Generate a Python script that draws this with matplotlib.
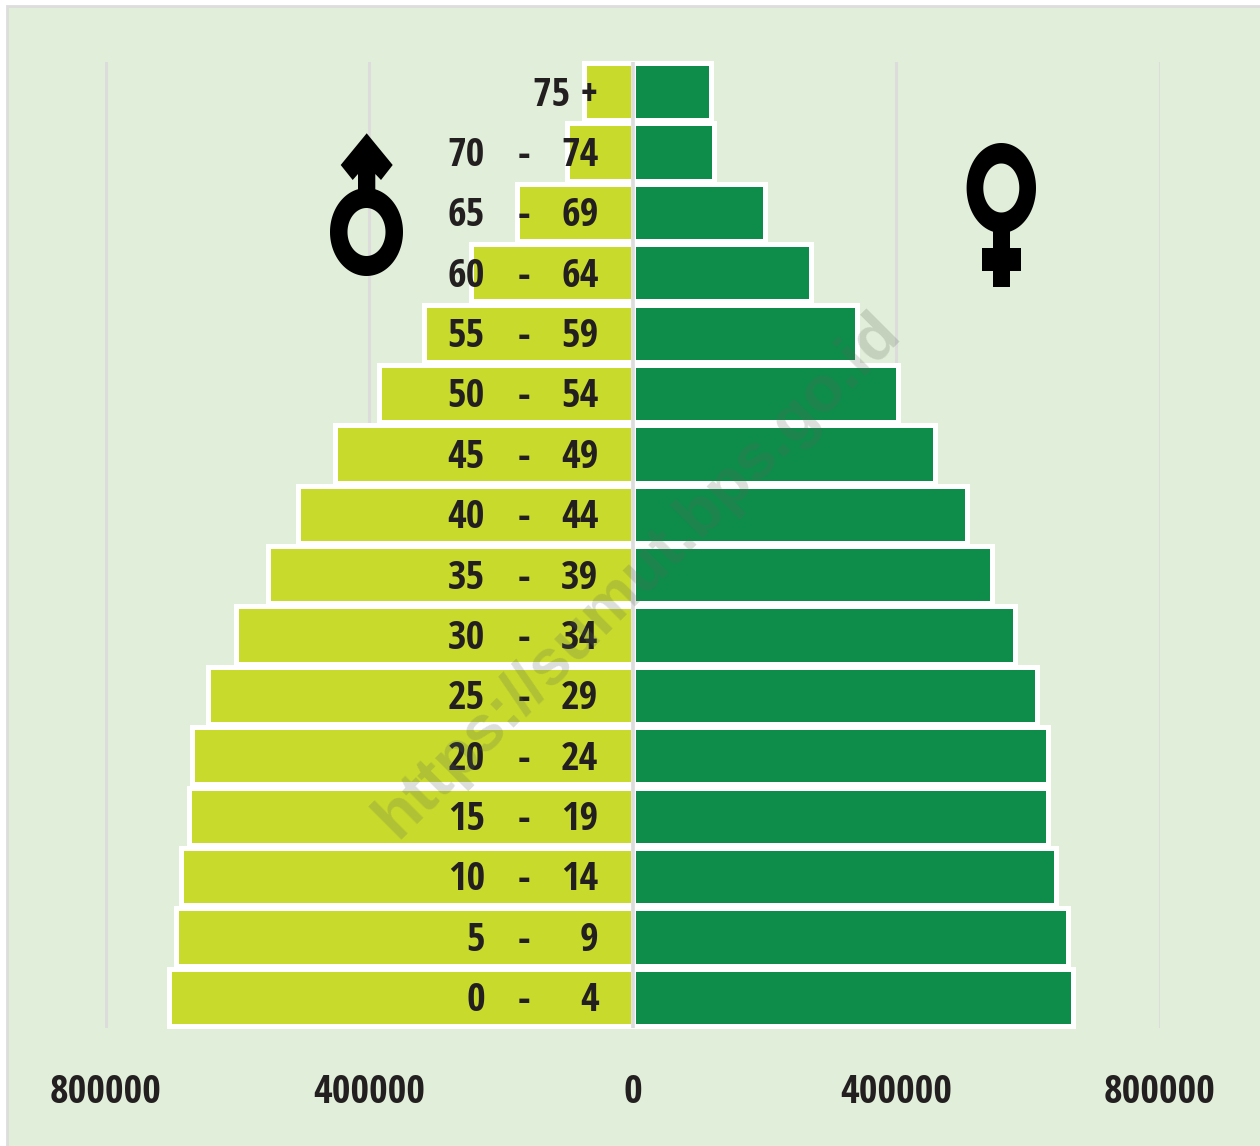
import numpy as np
import matplotlib
matplotlib.use("Agg")
import matplotlib.pyplot as plt
from matplotlib.patches import Rectangle, Polygon, PathPatch
from matplotlib.path import Path

age_low = ["0", "5", "10", "15", "20", "25", "30", "35", "40", "45", "50", "55", "60", "65", "70", "75 +"]
age_high = ["4", "9", "14", "19", "24", "29", "34", "39", "44", "49", "54", "59", "64", "69", "74", ""]
male = [703600, 693000, 685400, 673200, 668700, 644400, 601900, 553300, 507800, 451600,
        384800, 316500, 245200, 175300, 99400, 73600]
female = [669000, 661500, 643500, 631000, 631000, 614500, 581000, 545000, 508000, 459500,
          403500, 341000, 271500, 201500, 124000, 119500]
ticks = [-800000, -400000, 0, 400000, 800000]
tick_labels = ["800000", "400000", "0", "400000", "800000"]
watermark = "https://sumut.bps.go.id"

FONT = "Open Sans Condensed"
BG, MALE, FEMALE, INK, GRID = "#e1eed9", "#c8da2b", "#0e8c4a", "#231f20", "#dcdcdc"
W, H = 1260, 1146

fig = plt.figure(figsize=(W / 100, H / 100), dpi=100, facecolor="white")

under = fig.add_axes([0, 0, 1, 1], zorder=0)
under.set_xlim(0, W); under.set_ylim(H, 0); under.axis("off")
under.add_patch(Rectangle((7, 6), W, H, facecolor=BG, edgecolor="#dddddd", lw=2))

ax = fig.add_axes([105.5 / W, 1 - 1027.5 / H, 1054 / W, 966 / H], zorder=1)
ax.patch.set_alpha(0)
ax.set_xlim(-800000, 800000)
ax.set_ylim(-0.5, 15.5)
for s in ax.spines.values():
    s.set_visible(False)
y = np.arange(len(male))
ax.set_axisbelow(True)
ax.grid(axis="x", color=GRID, lw=2.2)
ax.grid(axis="y", visible=False)
ax.barh(y, -np.array(male), height=0.95, color=MALE, edgecolor="white", lw=3.6, clip_on=False, zorder=2)
ax.barh(y, female, height=0.95, color=FEMALE, edgecolor="white", lw=3.6, clip_on=False, zorder=2)
ax.axvline(0, color=GRID, lw=2.6, zorder=3)
ax.set_xticks(ticks, tick_labels)
ax.set_yticks([])
ax.tick_params(axis="x", length=0, pad=32.5, labelsize=29, labelcolor=INK)
for t in ax.get_xticklabels():
    t.set_fontfamily(FONT); t.set_fontweight("bold")

kw = dict(family=FONT, weight="bold", fontsize=29, color=INK, va="center", zorder=4)
for i, (lo, hi) in enumerate(zip(age_low, age_high)):
    yy = i - 0.065
    if hi:
        ax.text(-224000, yy, lo, ha="right", **kw)
        ax.text(-165500, yy, "-", ha="center", **kw)
        ax.text(-51600, yy, hi, ha="right", **kw)
    else:
        ax.text(-51600, yy, lo, ha="right", **kw)

top = fig.add_axes([0, 0, 1, 1], zorder=2)
top.set_xlim(0, W); top.set_ylim(H, 0); top.axis("off"); top.patch.set_alpha(0)

def ring(cx, cy, a, b, ia, ib):
    t = np.linspace(0, 2 * np.pi, 121)
    outer = np.c_[cx + a * np.cos(t), cy + b * np.sin(t)]
    inner = np.c_[cx + ia * np.cos(t[::-1]), cy + ib * np.sin(t[::-1])]
    v = np.r_[outer, inner]
    c = np.full(len(v), Path.LINETO)
    c[0] = Path.MOVETO; c[len(outer)] = Path.MOVETO
    return PathPatch(Path(v, c), facecolor="black", edgecolor="none")

top.add_patch(ring(366.5, 232, 36.5, 44, 19, 24))
top.add_patch(Polygon([(366.7, 133.3), (392.7, 165), (381, 180), (375.3, 174), (375.3, 192), (358, 192),
                       (358, 174), (352.7, 180), (340.7, 165)], closed=True, fc="black", ec="none"))
top.add_patch(ring(1001.3, 188, 34.7, 45, 18, 24.5))
top.add_patch(Rectangle((993, 228), 17, 59, fc="black", ec="none"))
top.add_patch(Rectangle((982, 248), 39, 23, fc="black", ec="none"))

top.text(638, 575, watermark, rotation=45, rotation_mode="anchor", ha="center", va="center",
         family="Liberation Sans", weight="bold", fontsize=46.5, color="#5a6a5a", alpha=0.22)

fig.savefig("out.png", dpi=100, facecolor="white")
